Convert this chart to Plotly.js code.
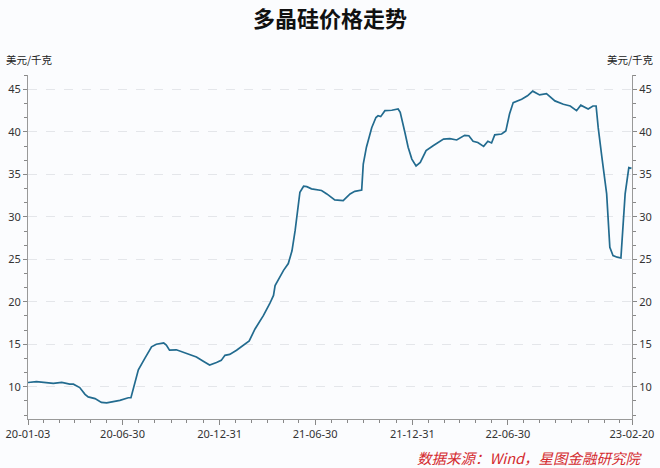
<!DOCTYPE html>
<html>
<head>
<meta charset="utf-8">
<script src="https://cdn.plot.ly/plotly-3.0.1.min.js"></script>
<style>
  html, body { margin: 0; padding: 0; background: #fbfcfe; }
  #chart { width: 660px; height: 468px; }
</style>
</head>
<body>
<div id="chart"></div>
<script>
// ---- Data (USD/kg, polysilicon price) ----
const dates = [
  '2020-01-03','2020-01-19','2020-02-20','2020-03-07','2020-03-22','2020-03-29','2020-04-10','2020-04-20',
  '2020-04-26','2020-05-09','2020-05-21','2020-05-31','2020-06-25','2020-07-11','2020-07-16','2020-07-24',
  '2020-07-30','2020-08-11','2020-08-24','2020-09-02','2020-09-16','2020-09-21','2020-09-27','2020-10-10',
  '2020-10-29','2020-11-17','2020-11-30','2020-12-12','2020-12-25','2021-01-03','2021-01-10','2021-01-19',
  '2021-02-01','2021-02-14','2021-02-25','2021-03-08','2021-03-24','2021-04-05','2021-04-12','2021-04-15',
  '2021-04-24','2021-05-01','2021-05-10','2021-05-17','2021-05-23','2021-05-29','2021-06-01','2021-06-08',
  '2021-06-14','2021-06-23','2021-07-12','2021-07-22','2021-08-06','2021-08-22','2021-09-04','2021-09-13',
  '2021-09-26','2021-09-29','2021-10-05','2021-10-15','2021-10-23','2021-10-27','2021-11-01','2021-11-09',
  '2021-11-22','2021-12-04','2021-12-08','2021-12-17','2021-12-23','2021-12-30','2022-01-07','2022-01-15',
  '2022-01-26','2022-02-09','2022-02-18','2022-02-28','2022-03-12','2022-03-25','2022-04-09','2022-04-17',
  '2022-04-25','2022-05-04','2022-05-15','2022-05-23','2022-05-30','2022-06-05','2022-06-18','2022-06-26',
  '2022-07-03','2022-07-10','2022-07-26','2022-08-06','2022-08-16','2022-08-29','2022-09-11','2022-09-27',
  '2022-10-13','2022-10-26','2022-11-07','2022-11-15','2022-11-29','2022-12-08','2022-12-14','2022-12-18',
  '2022-12-25','2023-01-03','2023-01-09','2023-01-15','2023-01-23','2023-01-30','2023-02-07','2023-02-14',
  '2023-02-19'
];
const prices = [
  10.5, 10.6, 10.4, 10.5, 10.3, 10.3, 9.9, 9.1,
  8.8, 8.6, 8.15, 8.1, 8.4, 8.7, 8.7, 10.8,
  12.0, 13.3, 14.7, 15.0, 15.15, 14.9, 14.3, 14.35,
  13.9, 13.5, 13.0, 12.55, 12.85, 13.1, 13.7, 13.8,
  14.3, 14.9, 15.4, 16.8, 18.4, 19.8, 20.75, 21.9,
  22.9, 23.7, 24.5, 26.0, 28.4, 31.7, 32.9, 33.6,
  33.55, 33.3, 33.1, 32.7, 32.0, 31.9, 32.7, 33.0,
  33.15, 36.2, 38.2, 40.5, 41.7, 41.9, 41.8, 42.5,
  42.55, 42.7, 42.3, 39.9, 38.2, 36.8, 36.0, 36.4,
  37.8, 38.4, 38.75, 39.15, 39.2, 39.05, 39.6, 39.55,
  38.9, 38.75, 38.3, 38.9, 38.7, 39.65, 39.75, 40.1,
  42.1, 43.45, 43.85, 44.25, 44.8, 44.35, 44.5, 43.65,
  43.25, 43.05, 42.5, 43.15, 42.7, 43.05, 43.05, 40.5,
  37.0, 32.7, 26.4, 25.45, 25.25, 25.15, 32.7, 35.8,
  35.7
];
const tickDates  = ['2020-01-03','2020-06-30','2020-12-31','2021-06-30','2021-12-31','2022-06-30','2023-02-20'];
const tickLabels = ['20-01-03','20-06-30','20-12-31','21-06-30','21-12-31','22-06-30','23-02-20'];

// minor x ticks: six per half-year segment, monthly in the last segment
const DAY = 86400000;
const toMs = s => new Date(s + 'T00:00:00Z').getTime();
const fmt = ms => new Date(ms).toISOString().slice(0, 10);
const minorX = [];
for (let i = 0; i < tickDates.length - 1; i++) {
  const a = toMs(tickDates[i]), b = toMs(tickDates[i + 1]);
  if (i < tickDates.length - 2) {
    const step = (b - a) / 6;
    for (let k = 1; k < 6; k++) minorX.push(fmt(a + k * step));
  } else {
    const step = 30.4 * DAY;
    for (let t = a + step; t < b - 5 * DAY; t += step) minorX.push(fmt(t));
  }
}

const tickFont = { family: 'Noto Sans, Open Sans, sans-serif', size: 11, color: '#333' };
const yCommon = {
  range: [6.2, 46.7],
  tickmode: 'linear', tick0: 0, dtick: 5,
  ticks: 'outside', ticklen: 4, tickwidth: 1, tickcolor: '#888',
  showline: true, linecolor: '#999', linewidth: 1,
  zeroline: false, fixedrange: true,
  tickfont: tickFont,
  minor: { tickmode: 'linear', tick0: 0, dtick: 5 / 3, ticks: 'outside', ticklen: 3, tickcolor: '#888', showgrid: false }
};

const traces = [
  {
    x: dates, y: prices, type: 'scatter', mode: 'lines',
    line: { color: '#226b8f', width: 1.7, shape: 'linear' },
    hoverinfo: 'x+y', showlegend: false
  },
  { x: [], y: [], yaxis: 'y2', type: 'scatter', mode: 'lines', showlegend: false, hoverinfo: 'skip' }
];

const layout = {
  width: 660, height: 468,
  paper_bgcolor: '#fbfcfe', plot_bgcolor: '#fbfcfe',
  margin: { l: 28, r: 28, t: 75, b: 49, pad: 0 },
  title: {
    text: '<b>多晶硅价格走势</b>',
    font: { family: 'Noto Sans CJK SC, sans-serif', size: 22, color: '#111' },
    x: 0.5, xanchor: 'center', xref: 'paper',
    y: 1 - 19 / 468, yanchor: 'middle', yref: 'container'
  },
  xaxis: {
    type: 'date',
    range: ['2020-01-03', '2023-02-20'],
    tickmode: 'array', tickvals: tickDates, ticktext: tickLabels,
    ticks: 'outside', ticklen: 5, tickwidth: 1, tickcolor: '#888',
    showline: true, linecolor: '#999', linewidth: 1,
    showgrid: false, zeroline: false, fixedrange: true,
    tickfont: tickFont,
    minor: { tickmode: 'array', tickvals: minorX, ticks: 'outside', ticklen: 3, tickcolor: '#888', showgrid: false }
  },
  yaxis: Object.assign({}, yCommon, {
    side: 'left',
    showgrid: true, gridcolor: '#e4e6ea', gridwidth: 1, griddash: 'dash'
  }),
  yaxis2: Object.assign({}, yCommon, {
    side: 'right', overlaying: 'y', showgrid: false
  }),
  annotations: [
    { text: '美元/千克', xref: 'paper', yref: 'paper', x: -0.04, y: 1 + 15 / 344, xanchor: 'left', yanchor: 'middle',
      showarrow: false, font: { family: 'Noto Sans CJK SC, sans-serif', size: 10.5, color: '#222' } },
    { text: '美元/千克', xref: 'paper', yref: 'paper', x: 1.04, y: 1 + 15 / 344, xanchor: 'right', yanchor: 'middle',
      showarrow: false, font: { family: 'Noto Sans CJK SC, sans-serif', size: 10.5, color: '#222' } },
    { text: '<i>数据来源：Wind，星图金融研究院</i>', xref: 'paper', yref: 'paper', x: 1.022, y: -38 / 344,
      xanchor: 'right', yanchor: 'middle', showarrow: false,
      font: { family: 'Noto Sans CJK SC, sans-serif', size: 14.5, color: '#d42a2e' } }
  ],
  showlegend: false
};

Plotly.newPlot('chart', traces, layout, { staticPlot: true, displayModeBar: false });
</script>
</body>
</html>
